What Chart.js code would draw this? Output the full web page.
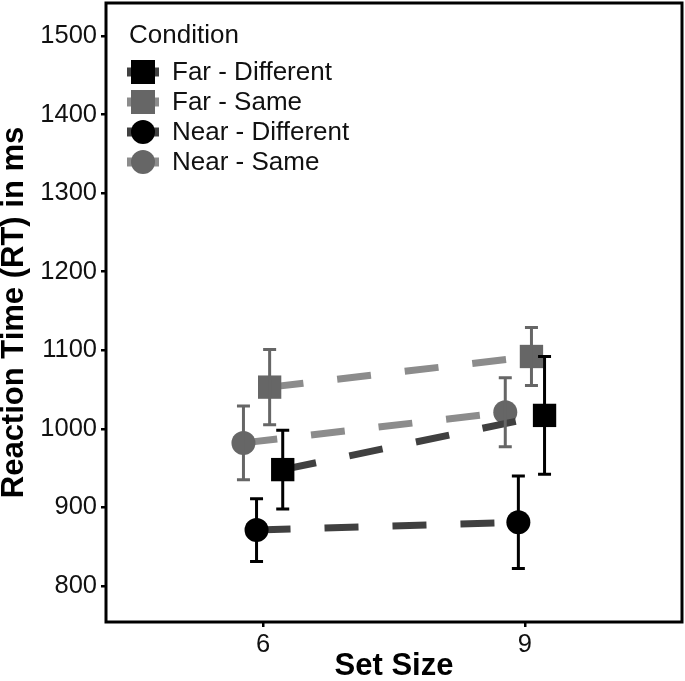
<!DOCTYPE html>
<html>
<head>
<meta charset="utf-8">
<script src="https://cdn.jsdelivr.net/npm/chart.js@4/dist/chart.umd.min.js"></script>
<style>
  html, body { margin: 0; padding: 0; background: #fff; }
  canvas { display: block; }
</style>
</head>
<body>
<canvas id="chart" width="685" height="681"></canvas>
<script>
// categories (set size) and y ticks
const setSizes = ['6', '9']
const yTicks = [800, 900, 1000, 1100, 1200, 1300, 1400, 1500]

// mean RT and error bar half-widths, one pair per condition
const farDiffMean = [948, 1017]
const farDiffErr = [50, 75]
const farSameMean = [1053, 1092]
const farSameErr = [48, 37]
const nearDiffMean = [871, 881]
const nearDiffErr = [40, 59]
const nearSameMean = [982, 1021]
const nearSameErr = [47, 44]

const conditions = [
  { label: 'Far - Different', mean: farDiffMean, err: farDiffErr, dodge: 0.075, shape: 'rect', marker: '#000000', line: '#404040', bar: '#000000' },
  { label: 'Far - Same', mean: farSameMean, err: farSameErr, dodge: 0.025, shape: 'rect', marker: '#666666', line: '#8c8c8c', bar: '#666666' },
  { label: 'Near - Different', mean: nearDiffMean, err: nearDiffErr, dodge: -0.025, shape: 'circle', marker: '#000000', line: '#404040', bar: '#000000' },
  { label: 'Near - Same', mean: nearSameMean, err: nearSameErr, dodge: -0.075, shape: 'circle', marker: '#666666', line: '#8c8c8c', bar: '#666666' }
]

const FONT = '"Liberation Sans", Arial, sans-serif'

const datasets = conditions.map(c => ({
  label: c.label,
  data: c.mean.map((v, i) => ({ x: i + 1 + c.dodge, y: v })),
  err: c.err,
  barColor: c.bar,
  borderColor: c.line,
  borderWidth: 7,
  borderDash: [34, 34],
  borderCapStyle: 'butt',
  pointStyle: c.shape,
  pointRadius: c.shape === 'rect' ? 16.5 : 12,
  pointBackgroundColor: c.marker,
  pointBorderWidth: 0,
  fill: false,
  tension: 0
}))

const errorBars = {
  id: 'errorBars',
  afterDatasetsDraw(chart) {
    const { ctx, scales: { x, y } } = chart
    ctx.save()
    ctx.lineWidth = 3
    chart.data.datasets.forEach(ds => {
      ctx.strokeStyle = ds.barColor
      ds.data.forEach((p, i) => {
        const px = x.getPixelForValue(p.x)
        const top = y.getPixelForValue(p.y + ds.err[i])
        const bot = y.getPixelForValue(p.y - ds.err[i])
        ctx.beginPath()
        ctx.moveTo(px, top); ctx.lineTo(px, bot)
        ctx.moveTo(px - 6.5, top); ctx.lineTo(px + 6.5, top)
        ctx.moveTo(px - 6.5, bot); ctx.lineTo(px + 6.5, bot)
        ctx.stroke()
      })
    })
    ctx.restore()
  }
}

const panel = {
  id: 'panel',
  afterDraw(chart) {
    const { ctx, chartArea: a } = chart
    ctx.save()
    ctx.strokeStyle = '#000'
    ctx.lineWidth = 3
    ctx.strokeRect(a.left, a.top, a.right - a.left, a.bottom - a.top)

    // legend inside the panel
    ctx.fillStyle = '#111'
    ctx.font = '26px ' + FONT
    ctx.textBaseline = 'alphabetic'
    ctx.fillText('Condition', 129, 43)
    ctx.textBaseline = 'middle'
    conditions.forEach((c, i) => {
      const cy = 72 + 30 * i
      ctx.strokeStyle = c.line
      ctx.lineWidth = 9
      ctx.beginPath()
      ctx.moveTo(127, cy); ctx.lineTo(159, cy)
      ctx.stroke()
      ctx.fillStyle = c.marker
      if (c.shape === 'rect') {
        ctx.fillRect(131, cy - 12, 24, 24)
      } else {
        ctx.beginPath()
        ctx.arc(143, cy, 12, 0, Math.PI * 2)
        ctx.fill()
      }
      ctx.fillStyle = '#111'
      ctx.fillText(c.label, 172, cy + 1)
    })
    ctx.restore()
  }
}

new Chart(document.getElementById('chart'), {
  type: 'line',
  data: { datasets },
  plugins: [errorBars, panel],
  options: {
    responsive: false,
    animation: false,
    layout: { autoPadding: false, padding: { left: 0, right: 3, top: 3, bottom: 0 } },
    plugins: {
      legend: { display: false },
      tooltip: { enabled: false }
    },
    scales: {
      x: {
        type: 'linear',
        min: 0.4,
        max: 2.6,
        afterBuildTicks: s => { s.ticks = setSizes.map((_, i) => ({ value: i + 1 })) },
        afterFit: s => { s.height = 59; s.paddingLeft = 0; s.paddingRight = 0 },
        ticks: {
          callback: v => setSizes[v - 1],
          font: { size: 25.5, family: FONT },
          color: '#111',
          padding: 3,
          maxRotation: 0
        },
        grid: { drawOnChartArea: false, drawTicks: true, tickLength: 5, color: '#000', lineWidth: 2.5 },
        border: { display: false },
        title: {
          display: true,
          text: 'Set Size',
          font: { size: 31, weight: 'bold', family: FONT },
          color: '#000',
          padding: { top: 0, bottom: -4 }
        }
      },
      y: {
        min: 754,
        max: 1542,
        afterBuildTicks: s => { s.ticks = yTicks.map(v => ({ value: v })) },
        afterFit: s => { s.width = 106; s.paddingTop = 0; s.paddingBottom = 0 },
        ticks: {
          callback: v => String(v),
          font: { size: 25.5, family: FONT },
          color: '#111',
          padding: 4
        },
        grid: { drawOnChartArea: false, drawTicks: true, tickLength: 5, color: '#000', lineWidth: 2.5 },
        border: { display: false },
        title: {
          display: true,
          text: 'Reaction Time (RT) in ms',
          font: { size: 31, weight: 'bold', family: FONT },
          color: '#000',
          padding: { top: -4, bottom: 0 }
        }
      }
    }
  }
})
</script>
</body>
</html>
